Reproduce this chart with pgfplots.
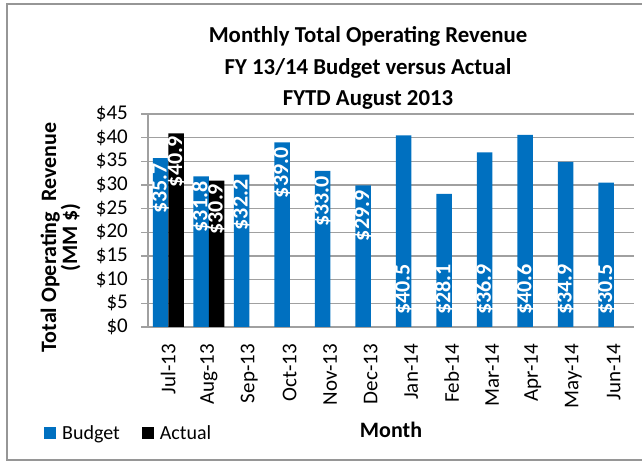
\documentclass[border=0pt]{standalone}
\usepackage{fontspec}
\setmainfont{Carlito}
\usepackage{pgfplots}
\pgfplotsset{compat=1.18}
\definecolor{bud}{RGB}{0,112,192}
\definecolor{gridc}{RGB}{160,160,160}
\definecolor{framec}{RGB}{150,150,150}
\begin{document}
\begin{tikzpicture}[x=1pt,y=1pt]
\useasboundingbox (0,0) rectangle (642,462);
\clip (0,0) rectangle (642,462);
\draw[framec, line width=2pt] (7,2) rectangle (670,458);
\node[anchor=base, font=\fontsize{22.8}{27}\selectfont\bfseries] at (368,419) {Monthly Total Operating Revenue};
\node[anchor=base, font=\fontsize{22.8}{27}\selectfont\bfseries] at (368,387.5) {FY 13/14 Budget versus Actual};
\node[anchor=base, font=\fontsize{22.8}{27}\selectfont\bfseries] at (368,356) {FYTD August 2013};
\begin{axis}[
  at={(148pt,135pt)}, anchor=south west,
  scale only axis, width=486pt, height=213pt,
  xmin=-0.5, xmax=11.5, ymin=0, ymax=45,
  axis x line*=bottom, axis y line*=left,
  axis line style={gridc, line width=1.2pt},
  tick align=outside,
  ytick={0,5,...,45},
  yticklabel={\$\pgfmathprintnumber{\tick}},
  /pgf/number format/assume math mode=true,
  yticklabel style={font=\fontsize{21}{24}\selectfont, anchor=east, inner sep=0pt, xshift=-13pt},
  ytick style={gridc, line width=1.2pt},
  major tick length=7pt,
  ymajorgrids, major grid style={gridc, line width=1.2pt},
  xtick={0,...,11},
  xticklabels={Jul-13,Aug-13,Sep-13,Oct-13,Nov-13,Dec-13,Jan-14,Feb-14,Mar-14,Apr-14,May-14,Jun-14},
  xticklabel style={font=\fontsize{21}{24}\selectfont, rotate=90, anchor=east, inner sep=0pt, xshift=-10pt},
  xtick style={draw=none},
  minor xtick={-0.5,0.5,...,11.5},
  minor x tick style={gridc, line width=1.2pt},
  minor tick length=6pt,
  ybar, bar width=15.5pt,
  xlabel={Month},
  xlabel style={font=\fontsize{22}{26}\selectfont\bfseries, at={(axis description cs:0.5,-0.485)}, anchor=center},
  ylabel={Total Operating\ \ Revenue\\(MM \$)},
  ylabel style={align=center, font=\fontsize{22}{21}\selectfont\bfseries, at={(axis description cs:-0.18,0.42)}, anchor=center},
  legend columns=2,
  legend style={at={(axis description cs:-0.214,-0.498)}, anchor=west, draw=none, fill=none, inner sep=0pt,
    font=\fontsize{20}{24}\selectfont,
    /tikz/every odd column/.append style={column sep=4pt},
    /tikz/every even column/.append style={column sep=20pt}},
  legend image code/.code={\fill[#1] (0pt,-6pt) rectangle (12pt,6pt);},
  nodes near coords={\$\pgfmathprintnumber[fixed,fixed zerofill,precision=1]{\pgfplotspointmeta}},
]
\addplot[fill=bud, draw=none, bar shift=-7.75pt,
  every node near coord/.append style={font=\fontsize{22}{24}\selectfont\bfseries, text=white, rotate=90, anchor=east, inner sep=0pt, xshift=-5pt}]
  coordinates {(0,35.7) (1,31.8) (2,32.2) (3,39.0) (4,33.0) (5,29.9)};
\addlegendentry{Budget}
\addplot[fill=black, draw=none, bar shift=7.75pt,
  every node near coord/.append style={font=\fontsize{22}{24}\selectfont\bfseries, text=white, rotate=90, anchor=east, inner sep=0pt, xshift=-3pt}]
  coordinates {(0,40.9) (1,30.9)};
\addlegendentry{Actual}
\addplot[fill=bud, draw=none, bar shift=-7.75pt, forget plot,
  visualization depends on={y \as \rawy},
  every node near coord/.append style={font=\fontsize{22}{24}\selectfont\bfseries, text=white, rotate=90, anchor=west, inner sep=0pt, xshift={-\rawy*4.7333pt+12pt}}]
  coordinates {(6,40.5) (7,28.1) (8,36.9) (9,40.6) (10,34.9) (11,30.5)};
\end{axis}
\end{tikzpicture}
\end{document}
